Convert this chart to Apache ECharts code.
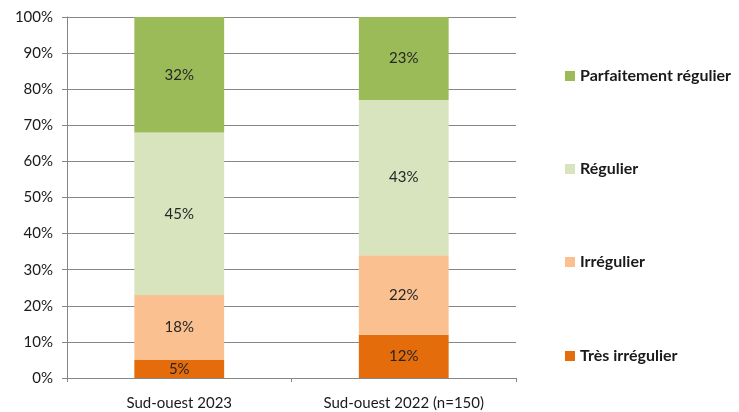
<!DOCTYPE html>
<html>
<head>
<meta charset="utf-8">
<script src="https://cdn.jsdelivr.net/npm/echarts@6/dist/echarts.min.js"></script>
<style>
  html, body { margin: 0; padding: 0; background: #fff; }
  #mybox { width: 739px; height: 412px; }
</style>
</head>
<body>
<div id="mybox"></div>
<script>
// données
var categories = ['Sud-ouest 2023', 'Sud-ouest 2022 (n=150)'];
var seriesNames = ['Très irrégulier', 'Irrégulier', 'Régulier', 'Parfaitement régulier'];
var tresIrregulier = [5, 12];
var irregulier = [18, 22];
var regulier = [45, 43];
var parfaitement = [32, 23];
var yTicks = [0, 10, 20, 30, 40, 50, 60, 70, 80, 90, 100];

var colors = ['#E46C0A', '#FAC090', '#D7E4BD', '#9BBB59'];
var values = [tresIrregulier, irregulier, regulier, parfaitement];
var font = 'Lato, "Open Sans", sans-serif';

var mycharts = echarts.init(document.getElementById('mybox'));

// une légende par entrée, pour les espacer comme l'original
var legendTops = [343, 249, 156, 63];
var legends = seriesNames.map(function (n, i) {
    return {
        data: [n],
        left: 560,
        top: legendTops[i],
        itemWidth: 10,
        itemHeight: 10,
        itemGap: 5,
        icon: 'rect',
        selectedMode: false,
        textStyle: { fontFamily: font, fontSize: 16, fontWeight: 'bold', color: '#1a1a1a' }
    };
});

var series = seriesNames.map(function (n, i) {
    return {
        name: n,
        type: 'bar',
        stack: 'total',
        barWidth: '40%',
        itemStyle: { color: colors[i] },
        label: {
            show: true,
            position: 'inside',
            formatter: '{c}%',
            fontFamily: font,
            fontSize: 15,
            color: '#262626'
        },
        data: values[i]
    };
});

var optionObj = {
    animation: false,
    grid: { left: 67, right: 223, top: 17, bottom: 34 },
    legend: legends,
    xAxis: {
        type: 'category',
        data: categories,
        axisLine: { lineStyle: { color: '#868686', width: 1 } },
        axisTick: { show: true, length: 4, lineStyle: { color: '#868686' } },
        axisLabel: { fontFamily: font, fontSize: 15, color: '#1a1a1a', margin: 18 }
    },
    yAxis: {
        type: 'value',
        min: yTicks[0],
        max: yTicks[yTicks.length - 1],
        interval: 10,
        axisLine: { show: true, lineStyle: { color: '#868686' } },
        axisTick: { show: true, length: 5, lineStyle: { color: '#868686' } },
        splitLine: { lineStyle: { color: '#868686', width: 1 } },
        axisLabel: { fontFamily: font, fontSize: 15, color: '#1a1a1a', margin: 14, formatter: '{value}%' }
    },
    series: series
};

mycharts.setOption(optionObj);
</script>
</body>
</html>
